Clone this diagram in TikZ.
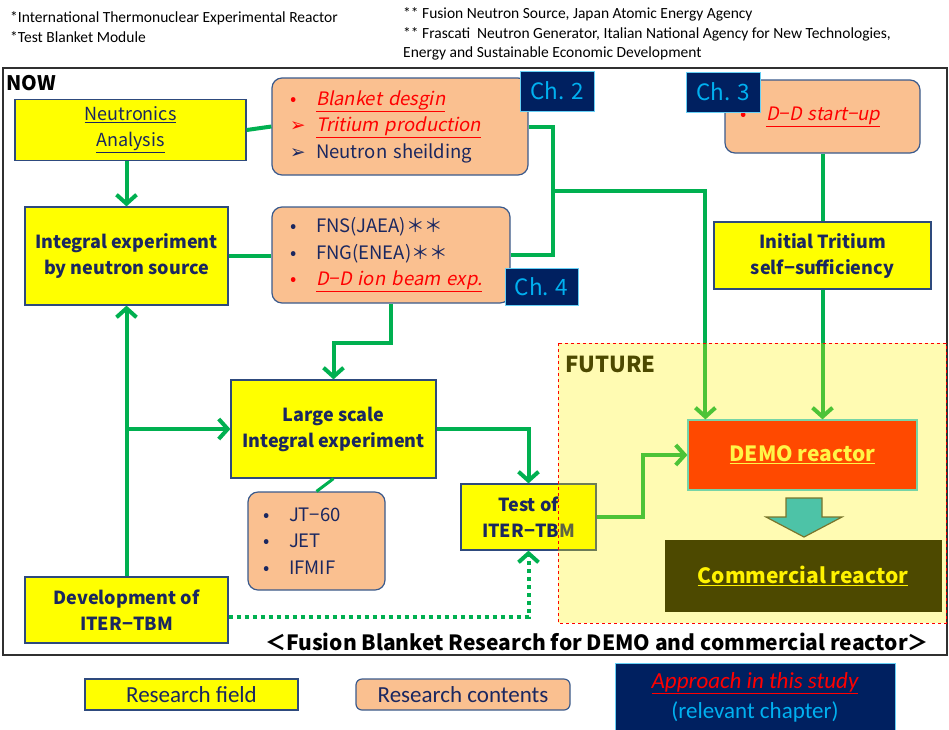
\documentclass[tikz,border=0pt]{standalone}
\usepackage{fontspec}
\setmainfont{Noto Sans CJK JP}[AutoFakeSlant=0.2]
\newfontfamily\notefont{Carlito}
\newfontfamily\symfont{DejaVu Sans}
\usepackage{tikz}
\usetikzlibrary{positioning,arrows.meta}
\definecolor{fieldYellow}{HTML}{FFFF00}
\definecolor{fieldEdge}{HTML}{2E4A7D}
\definecolor{textNavy}{HTML}{1A2760}
\definecolor{contentPeach}{HTML}{FAC090}
\definecolor{contentEdge}{HTML}{3A5A8C}
\definecolor{chapNavy}{HTML}{002060}
\definecolor{chapCyan}{HTML}{00B0F0}
\definecolor{linkGreen}{HTML}{00B050}
\definecolor{itemRed}{HTML}{FF0000}
\definecolor{demoRed}{HTML}{FF0000}
\definecolor{demoEdge}{HTML}{3CC8F0}
\definecolor{arrowTeal}{HTML}{00B0F0}
\definecolor{frameGray}{HTML}{303030}
\newcommand{\bul}[1]{\makebox[26pt][l]{\textcolor{#1}{•}}}
\newcommand{\arr}[1]{\makebox[26pt][l]{\textcolor{#1}{\symfont ➢}}}
\newcommand{\hot}[1]{\textcolor{itemRed}{\itshape\underline{#1}}}
\tikzset{
  field/.style={rectangle, draw=fieldEdge, line width=1.2pt, fill=fieldYellow, text=textNavy,
                align=center, inner sep=0pt, font=\bfseries\fontsize{18}{26}\selectfont},
  contents/.style={rectangle, rounded corners=10pt, draw=contentEdge, line width=1.2pt,
                   fill=contentPeach, text=textNavy, align=left, inner ysep=0pt,
                   font=\fontsize{18.5}{26.5}\selectfont},
  chapter/.style={rectangle, draw=chapCyan!60, line width=0.8pt, fill=chapNavy, text=chapCyan,
                  inner sep=0pt, font=\fontsize{22.5}{24}\selectfont},
  note/.style={anchor=base west, inner sep=0pt, font=\notefont\fontsize{15.5}{19}\selectfont},
  link/.style={draw=linkGreen, line width=4pt},
  flow/.style={link, -{Straight Barb[length=9pt,width=20pt]}},
  plan/.style={flow, dash pattern=on 4pt off 4pt}
}
\begin{document}
\begin{tikzpicture}[x=1pt,y=-1pt]
  \useasboundingbox (0,0) rectangle (949,729);

  % footnotes
  \node[note] (iter) at (10,22) {*International Thermonuclear Experimental Reactor};
  \node[note] (tbm) at (10,42) {*Test Blanket Module};
  \node[note] (fns) at (403,18) {** Fusion Neutron Source, Japan Atomic Energy Agency};
  \node[note] (fng) at (403,38) {** Frascati\ \ Neutron Generator, Italian National Agency for New Technologies,};
  \node[note] (enea) at (403,57) {Energy and Sustainable Economic Development};

  % frame
  \draw[frameGray, line width=2pt] (3,68) rectangle (947,655);
  \node[anchor=base west, inner sep=0pt, font=\bfseries\fontsize{20}{22}\selectfont] (now) at (6,90) {NOW};

  % research fields
  \node[field, minimum width=231pt, minimum height=61pt, font=\fontsize{18}{26}\selectfont] (neut) at (130.5,130)
    {\underline{Neutronics}\\\underline{Analysis}};
  \node[field, minimum width=203pt, minimum height=98pt] (integ) at (126.5,256)
    {Integral experiment\\by neutron source};
  \node[field, minimum width=205pt, minimum height=98pt] (large) at (333.5,429)
    {Large scale\\Integral experiment};
  \node[field, minimum width=203pt, minimum height=66pt] (dev) at (126.5,610)
    {Development of\\ITER−TBM};
  \node[field, minimum width=135pt, minimum height=66pt] (test) at (528.5,517)
    {Test of\\ITER−TBM};
  \node[field, minimum width=217pt, minimum height=67pt] (tritium) at (822.5,255.5)
    {Initial Tritium\\self−sufficiency};

  % research contents
  \node[contents, minimum width=256pt, minimum height=97pt, text width=220pt, inner xsep=18pt] (design) at (400,126.5)
    {\bul{itemRed}\hot{Blanket desgin}\\
     \arr{itemRed}\hot{Tritium production}\\
     \arr{textNavy}Neutron sheilding};
  \node[contents, minimum width=238pt, minimum height=96pt, text width=202pt, inner xsep=18pt] (source) at (391,255)
    {\bul{textNavy}FNS(JAEA)＊＊\\
     \bul{textNavy}FNG(ENEA)＊＊\\
     \bul{itemRed}\hot{D−D ion beam exp.}};
  \node[contents, minimum width=137pt, minimum height=98pt, text width=107pt, inner xsep=15pt] (devices) at (316.5,541)
    {\bul{textNavy}JT−60\\
     \bul{textNavy}JET\\
     \bul{textNavy}IFMIF};
  \node[contents, minimum width=195pt, minimum height=73pt, text width=165pt, inner xsep=15pt] (startup) at (822.5,116.5)
    {\bul{itemRed}\hot{D−D start−up}};

  % chapters
  \node[chapter, minimum width=74pt, minimum height=40pt] (ch2) at (557,91) {Ch. 2};
  \node[chapter, minimum width=74pt, minimum height=40pt] (ch3) at (723,92) {Ch. 3};
  \node[chapter, minimum width=73pt, minimum height=37pt] (ch4) at (541.5,286.5) {Ch. 4};

  % future targets
  \node[anchor=base west, inner sep=0pt, font=\bfseries\fontsize{22}{24}\selectfont] (future) at (565,372) {FUTURE};
  \node[rectangle, draw=demoEdge, line width=1.2pt, fill=demoRed, text=yellow!60!white,
        minimum width=229pt, minimum height=70pt, font=\bfseries\fontsize{21}{24}\selectfont] (demo) at (802.5,455)
    {\underline{DEMO reactor}};
  \node[rectangle, draw=black, fill=black, text=yellow,
        minimum width=276pt, minimum height=71pt, font=\bfseries\fontsize{21}{24}\selectfont] (comm) at (803,575.5)
    {\underline{Commercial reactor}};
  \draw[fill=arrowTeal, draw=black!75, line width=1.2pt]
    (786,498) -- (822,498) -- (822,517) -- (842,517) -- (804,537) -- (766,517) -- (786,517) -- cycle;

  % connectors
  \coordinate (split) at (553,191);
  \coordinate (drop) at (333.5,343);
  \draw[link] (neut.east) -- (design.west);
  \draw[flow] (neut.south -| integ.north) -- (integ.north);
  \draw[link] (integ.east) -- (integ.east -| source.west);
  \draw[link] (design.east) -| (split) |- (source.east);
  \draw[flow] (split) -| ([xshift=18pt]demo.north west);
  \draw[link] (startup.south) -- (tritium.north);
  \draw[flow] (tritium.south) -- (tritium.south |- demo.north);
  \draw[flow] (source.south) |- (drop) -- (large.north);
  \draw[flow] (dev.north) -- (integ.south);
  \draw[flow] (dev.north |- large.west) -- (large.west);
  \draw[flow] (large.east) -| (test.north);
  \draw[link, line width=3pt] (large.south) -- (devices.north);
  \draw[plan] ([yshift=-7pt]dev.east) -| (test.south);
  \draw[flow] (test.east) -- ++(46,0) |- (demo.west);

  % future area
  \draw[itemRed, dashed, line width=1pt, fill=yellow, fill opacity=0.3] (558,343) rectangle (946,623);

  \node[anchor=base, inner sep=0pt, font=\bfseries\fontsize{21}{24}\selectfont] (title) at (597,650)
    {＜Fusion Blanket Research for DEMO and commercial reactor＞};

  % legend
  \node[field, minimum width=213pt, minimum height=31pt, font=\notefont\fontsize{23}{26}\selectfont] (keyfield) at (191.5,694.5)
    {Research field};
  \node[contents, rounded corners=6pt, minimum width=214pt, minimum height=31pt, align=center,
        font=\notefont\fontsize{23}{26}\selectfont] (keycontents) at (463,694.5) {Research contents};
  \node[rectangle, draw=chapCyan!60, fill=chapNavy, minimum width=280pt, minimum height=68pt, align=center,
        font=\notefont\fontsize{23}{30}\selectfont] (keychapter) at (755,697)
    {\textcolor{itemRed}{\itshape\underline{Approach in this study}}\\\textcolor{chapCyan}{(relevant chapter)}};
\end{tikzpicture}
\end{document}
